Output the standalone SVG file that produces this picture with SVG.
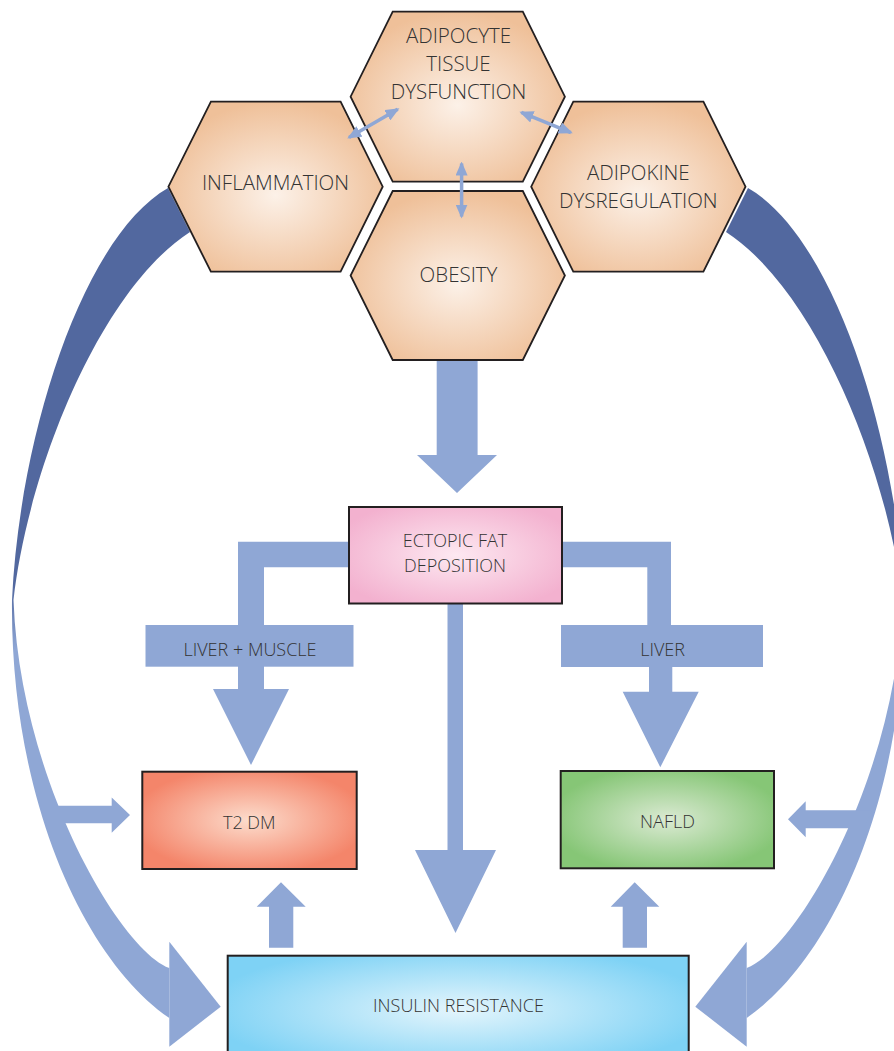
<svg xmlns="http://www.w3.org/2000/svg" width="894" height="1051" viewBox="0 0 894 1051">
<defs>
<style>
.t{font-family:"Open Sans","Noto Sans","Liberation Sans",sans-serif;fill:#333333;text-anchor:middle;font-weight:300}
.h{font-size:20.5px}
.b{font-size:18px}
.arr{fill:#8fa7d5}
.hex{stroke:#231f20;stroke-width:1.8;fill:url(#gHex)}
.box{stroke:#231f20;stroke-width:2}
.dbl{stroke:#8fa7d5;stroke-width:3.5;fill:none;marker-start:url(#mh);marker-end:url(#mh)}
</style>
<radialGradient id="gHex" cx="0.5" cy="0.55" r="0.55">
<stop offset="0" stop-color="#fcf1e8"/>
<stop offset="1" stop-color="#efc099"/>
</radialGradient>
<radialGradient id="gPink" cx="0.5" cy="0.5" r="0.6">
<stop offset="0" stop-color="#fde8f1"/>
<stop offset="1" stop-color="#f3b1cf"/>
</radialGradient>
<radialGradient id="gRed" cx="0.5" cy="0.5" r="0.55">
<stop offset="0" stop-color="#fcdccc"/>
<stop offset="1" stop-color="#f4856a"/>
</radialGradient>
<radialGradient id="gGreen" cx="0.5" cy="0.5" r="0.55">
<stop offset="0" stop-color="#dbead3"/>
<stop offset="1" stop-color="#86c676"/>
</radialGradient>
<radialGradient id="gBlue" cx="0.5" cy="0.45" r="0.55">
<stop offset="0" stop-color="#e4f5fc"/>
<stop offset="1" stop-color="#7ed2f5"/>
</radialGradient>
<linearGradient id="gBand" gradientUnits="userSpaceOnUse" x1="0" y1="585" x2="0" y2="650">
<stop offset="0" stop-color="#52689f"/>
<stop offset="1" stop-color="#8fa7d5"/>
</linearGradient>
<marker id="mh" markerUnits="userSpaceOnUse" markerWidth="14" markerHeight="12" refX="12" refY="6" orient="auto-start-reverse">
<path d="M0,0 L14,6 L0,12 Z" fill="#8fa7d5"/>
</marker>
<path id="bandShape" d="M168,188 C85,235 20,430 12,600 C10,800 85,960 169.3,1018 L169.3,968 C120,950 20,780 13.5,600 C28,470 100,290 190,232 Z"/>
</defs>
<rect width="894" height="1051" fill="#ffffff"/>

<g id="connectors">
<!-- big curved bands -->
<use href="#bandShape" fill="url(#gBand)"/>
<polygon class="arr" points="169.3,941.7 220.7,1006.7 169.3,1046.7"/>
<g transform="matrix(-1,0,0,1,916,0)">
<use href="#bandShape" fill="url(#gBand)"/>
<polygon class="arr" points="169.3,941.7 220.7,1006.7 169.3,1046.7"/>
</g>
<!-- side arrows into T2DM and NAFLD -->
<polygon class="arr" points="40,805.7 111.7,805.7 111.7,797.5 130,815 111.7,832.7 111.7,823.3 50,823.3"/>
<polygon class="arr" points="872,810.3 805.7,810.3 805.7,801.3 788,819.3 805.7,837.3 805.7,828.3 864,828.3"/>
<!-- obesity to ectopic -->
<polygon class="arr" points="436.7,355 477.6,355 477.6,455 497,455 457,493 417,455 436.7,455"/>
<!-- ectopic branches -->
<path class="arr" d="M350,541.7 H238 V626 H264 V567.3 H350 Z"/>
<path class="arr" d="M561,541.7 H671 V626 H647.3 V567.3 H561 Z"/>
<polygon class="arr" points="238,666 264,666 264,689 289,689 251,765 213,689 238,689"/>
<polygon class="arr" points="649,666 672.3,666 672.3,691.7 698.7,691.7 660.3,767.3 622.7,691.7 649,691.7"/>
<polygon class="arr" points="447.5,603 463,603 463,850 496,850 455.5,933 415,850 447.5,850"/>
<!-- insulin up arrows -->
<polygon class="arr" points="269,947.7 293.3,947.7 293.3,906.7 305.7,906.7 281,882.3 256.7,906.7 269,906.7"/>
<polygon class="arr" points="622.7,947.7 647,947.7 647,906.7 659.3,906.7 634.7,882.3 610.7,906.7 622.7,906.7"/>
</g>

<g id="label-liver-muscle">
<rect class="arr" x="145.5" y="625" width="208" height="41.7"/>
<text class="t b" x="250" y="655.5">LIVER + MUSCLE</text>
</g>
<g id="label-liver">
<rect class="arr" x="561" y="625" width="202" height="42"/>
<text class="t b" x="662.6" y="655.5">LIVER</text>
</g>

<g id="node-inflammation">
<polygon class="hex" points="210.9,101.7 340.6,101.7 382.7,186.7 340.6,271.7 210.9,271.7 168.4,186.7"/>
<text class="t h" x="275.5" y="190">INFLAMMATION</text>
</g>
<g id="node-adipocyte">
<polygon class="hex" points="392.7,11.7 522.8,11.7 564.9,96.7 522.8,181.7 392.7,181.7 350.6,96.7"/>
<text class="t h" x="458.5" y="43.3">ADIPOCYTE</text>
<text class="t h" x="458.5" y="71">TISSUE</text>
<text class="t h" x="458.5" y="99.3">DYSFUNCTION</text>
</g>
<g id="node-adipokine">
<polygon class="hex" points="573.3,101.7 703.4,101.7 745.5,186.7 703.4,271.7 573.3,271.7 531.2,186.7"/>
<text class="t h" x="638.3" y="180">ADIPOKINE</text>
<text class="t h" x="638.3" y="208.3">DYSREGULATION</text>
</g>
<g id="node-obesity">
<polygon class="hex" points="392.7,191 522.8,191 564.9,275.5 522.8,360 392.7,360 350.6,275.5"/>
<text class="t h" x="458.5" y="281.7">OBESITY</text>
</g>

<g id="small-arrows">
<line class="dbl" x1="349" y1="137.4" x2="397.7" y2="109.2"/>
<line class="dbl" x1="521.3" y1="112.4" x2="570.9" y2="132.6"/>
<line class="dbl" x1="461.6" y1="163.5" x2="461.6" y2="216.5"/>
</g>

<g id="node-ectopic">
<rect class="box" x="349" y="507" width="213" height="96.5" fill="url(#gPink)"/>
<text class="t b" x="455" y="546.7">ECTOPIC FAT</text>
<text class="t b" x="455" y="571.7">DEPOSITION</text>
</g>
<g id="node-t2dm">
<rect class="box" x="142.3" y="771.7" width="214.4" height="97.3" fill="url(#gRed)"/>
<text class="t b" x="249.3" y="829">T2 DM</text>
</g>
<g id="node-nafld">
<rect class="box" x="560.7" y="771" width="213.3" height="97.3" fill="url(#gGreen)"/>
<text class="t b" x="667.5" y="828">NAFLD</text>
</g>
<g id="node-insulin">
<rect class="box" x="227.7" y="955.7" width="461" height="120" fill="url(#gBlue)"/>
<text class="t b" x="458.5" y="1012.3">INSULIN RESISTANCE</text>
</g>
</svg>
